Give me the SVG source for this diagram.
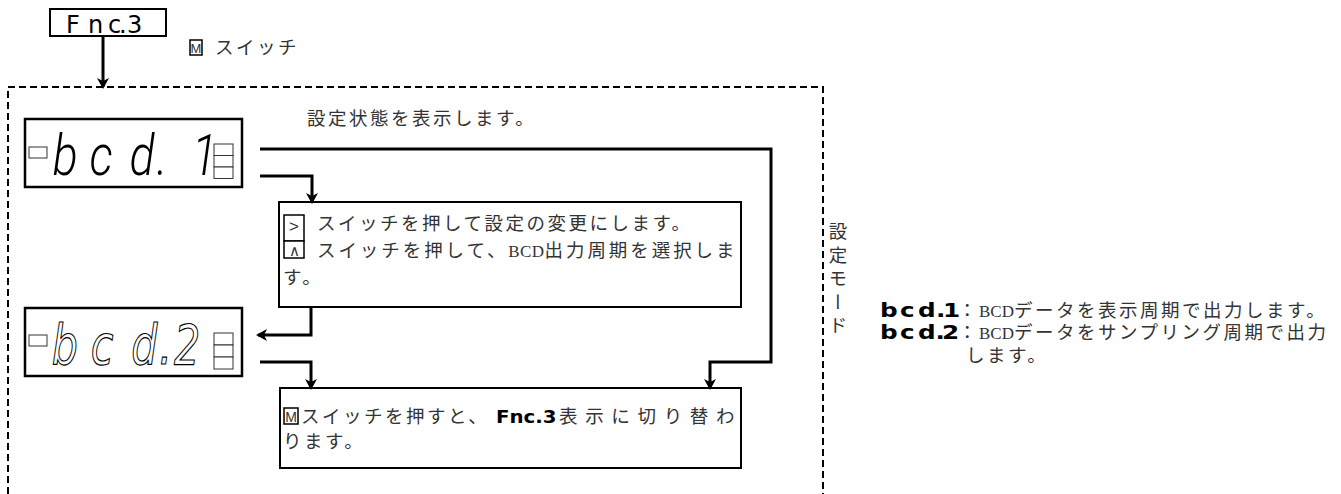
<svg xmlns="http://www.w3.org/2000/svg" width="1341" height="494" viewBox="0 0 1341 494">
<style>
.jp{font-family:'Liberation Serif','Noto Sans CJK JP',serif;font-size:18.5px;letter-spacing:2.5px;fill:#333}
.lat{letter-spacing:0px;font-size:17px}
.box{fill:#fff;stroke:#000;stroke-width:2}
.disp{fill:#fff;stroke:#000;stroke-width:2.5}
.key{fill:#fff;stroke:#000;stroke-width:1.5}
.keyt{font-family:'Liberation Sans',sans-serif;fill:#333;text-anchor:middle}
.seg{font-family:'DejaVu Sans',sans-serif;fill:#000}
.thin{font-family:Roboto,'Open Sans',sans-serif;font-weight:300;font-style:italic;fill:#000}
.conn{fill:none;stroke:#000;stroke-width:3}
.lamp{fill:#fff;stroke:#333;stroke-width:1}
.dash{fill:none;stroke:#000;stroke-width:2;stroke-dasharray:7 4}
</style>
<defs>
<marker id="ah" markerWidth="12" markerHeight="12" refX="9" refY="6" orient="auto" markerUnits="userSpaceOnUse">
<path d="M0,0 L11,6 L0,12 L3,6 z" fill="#000"/>
</marker>
</defs>

<g id="mode-frame">
<path class="dash" d="M8,494 V87 H823 V494"/>
</g>

<g id="fnc3">
<rect class="box" x="50" y="9" width="116" height="27"/>
<text class="seg" x="66 88 108 119 127" y="33" font-size="24">Fnc.3</text>
</g>

<g id="m-switch-note">
<rect class="key" x="190" y="40" width="12" height="15"/>
<text class="keyt" x="196" y="53" font-size="13">M</text>
<text class="jp" x="215" y="54">スイッチ</text>
</g>

<g id="status-note">
<text class="jp" x="307" y="125">設定状態を表示します。</text>
</g>

<g id="bcd1">
<rect class="disp" x="25" y="119" width="217" height="68"/>
<rect class="lamp" x="29" y="147" width="18" height="11"/>
<g transform="scale(0.8,1)">
<text class="thin" x="66 112 162 196 240" y="175" font-size="58">bcd.1</text>
</g>
<rect class="lamp" x="214" y="144" width="19" height="11.5"/>
<rect class="lamp" x="214" y="155.5" width="19" height="11.5"/>
<rect class="lamp" x="214" y="167" width="19" height="11.5"/>
</g>

<g id="bcd2">
<rect class="disp" x="25" y="308" width="217" height="68"/>
<rect class="lamp" x="29" y="335" width="18" height="11"/>
<g transform="scale(0.75,1)">
<text class="seg" x="69 121 175 212 232" y="364" font-size="55" font-style="oblique" stroke="#000" stroke-width="1.2" style="fill:#fff">bcd.2</text>
</g>
<rect class="lamp" x="214" y="333" width="19" height="12"/>
<rect class="lamp" x="214" y="345" width="19" height="12"/>
<rect class="lamp" x="214" y="357" width="19" height="12"/>
</g>

<g id="box-select">
<rect class="box" x="279" y="202" width="462" height="105"/>
<rect class="key" x="284" y="215" width="20" height="26"/>
<text class="keyt" x="294" y="232" font-size="17">&gt;</text>
<rect class="key" x="284" y="241" width="20" height="17"/>
<text class="keyt" x="294" y="256" font-size="15">∧</text>
<text class="jp" x="317" y="230">スイッチを押して設定の変更にします。</text>
<text class="jp" x="317" y="257" textLength="420" lengthAdjust="spacing">スイッチを押して、<tspan class="lat">BCD</tspan>出力周期を選択しま</text>
<text class="jp" x="283" y="284">す。</text>
</g>

<g id="box-exit">
<rect class="box" x="280" y="388" width="461" height="80"/>
<rect class="key" x="284" y="408" width="14" height="16"/>
<text class="keyt" x="291" y="422" font-size="14">M</text>
<text class="jp" x="301" y="423">スイッチを押すと、</text>
<g transform="scale(1.1,1)">
<text class="seg" x="450.9" y="423" font-size="18" font-weight="bold">Fnc.3</text>
</g>
<text class="jp" x="559" y="423" textLength="178" lengthAdjust="spacing">表示に切り替わ</text>
<text class="jp" x="283" y="448">ります。</text>
</g>

<g id="mode-label">
<text class="jp" x="836" y="222" writing-mode="vertical-rl" style="letter-spacing:5px">設定モード</text>
</g>

<g id="legend">
<g transform="scale(1.3,1)">
<text class="seg" x="677 692.3 706.2 720 725.4" y="317" font-size="19" font-weight="bold">bcd.1</text>
<text class="seg" x="677 692.3 706.2 719.6 724.6" y="339" font-size="19" font-weight="bold">bcd.2</text>
</g>
<text class="jp" x="958" y="317">：<tspan class="lat">BCD</tspan>データを表示周期で出力します。</text>
<text class="jp" x="958" y="339">：<tspan class="lat">BCD</tspan>データをサンプリング周期で出力</text>
<text class="jp" x="966" y="362">します。</text>
</g>

<g id="connectors">
<path class="conn" d="M103,36 V87" marker-end="url(#ah)"/>
<path class="conn" d="M260,149 H771 V362 H710 V388" marker-end="url(#ah)"/>
<path class="conn" d="M260,176 H312 V202" marker-end="url(#ah)"/>
<path class="conn" d="M311,307 V335 H258" marker-end="url(#ah)"/>
<path class="conn" d="M260,362 H311 V388" marker-end="url(#ah)"/>
</g>
</svg>
